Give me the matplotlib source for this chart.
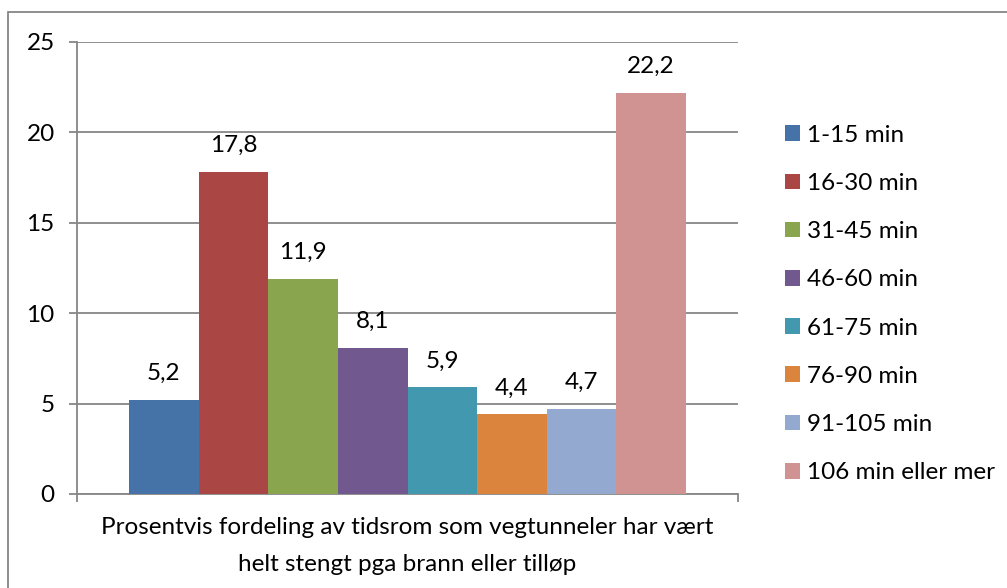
import matplotlib
matplotlib.use("Agg")
import matplotlib.pyplot as plt
from matplotlib.patches import Rectangle

plt.rcParams['font.family'] = ['Lato', 'DejaVu Sans']

# ---------- data ----------
series_labels = ["1-15 min", "16-30 min", "31-45 min", "46-60 min",
                 "61-75 min", "76-90 min", "91-105 min", "106 min eller mer"]
values = [5.2, 17.8, 11.9, 8.1, 5.9, 4.4, 4.7, 22.2]
colors = ["#4572A7", "#AA4643", "#89A54E", "#71588F",
          "#4198AF", "#DB843D", "#93A9CF", "#D19392"]
category_label = "Prosentvis fordeling av tidsrom som vegtunneler har vært\nhelt stengt pga brann eller tilløp"
y_ticks = [0, 5, 10, 15, 20, 25]

grid_col = "#868686"
fs = 17.5

fig = plt.figure(figsize=(10.07, 5.88), dpi=100)
ax = fig.add_axes([77 / 1007, 94 / 588, 661 / 1007, 452 / 588])

# outer chart border (only top/left visible in the crop)
fig.patches.append(Rectangle((8 / 1007, -0.1), 1.2, (588 - 12) / 588 + 0.1,
                             transform=fig.transFigure, fill=False,
                             edgecolor=grid_col, linewidth=1.3))

bar_w = 0.1053
n = len(values)
for i, (lab, v, c) in enumerate(zip(series_labels, values, colors)):
    x = (i - (n - 1) / 2) * bar_w
    bars = ax.bar([x], [v], width=bar_w, color=c, label=lab, zorder=3)
    ax.bar_label(bars, labels=[f"{v:.1f}".replace(".", ",")], padding=11.5,
                 fontsize=fs, color="#000000")

ax.set_xlim(-0.5, 0.5)
ax.set_ylim(0, 25)
ax.set_yticks(y_ticks)
ax.set_yticklabels([str(t) for t in y_ticks], fontsize=fs)
ax.yaxis.grid(True, color=grid_col, linewidth=1.3, zorder=0)
ax.tick_params(axis="y", length=6, width=1.3, color=grid_col, pad=10)
ax.set_xticks([-0.5, 0.5])
ax.set_xticklabels(["", ""])
ax.tick_params(axis="x", length=6, width=1.3, color=grid_col)

for side in ["top", "right"]:
    ax.spines[side].set_visible(False)
for side in ["left", "bottom"]:
    ax.spines[side].set_color(grid_col)
    ax.spines[side].set_linewidth(1.3)

ax.text(0.5, -0.05, category_label, transform=ax.transAxes, ha="center",
        va="top", fontsize=fs, linespacing=1.95)

leg = fig.legend(loc="upper left", bbox_to_anchor=(775 / 1007, 1 - 115 / 588),
                 frameon=False, fontsize=fs, handlelength=0.62, handleheight=0.62,
                 handletextpad=0.3, labelspacing=1.12, borderaxespad=0)

plt.savefig("out.png", dpi=100)
plt.close(fig)
